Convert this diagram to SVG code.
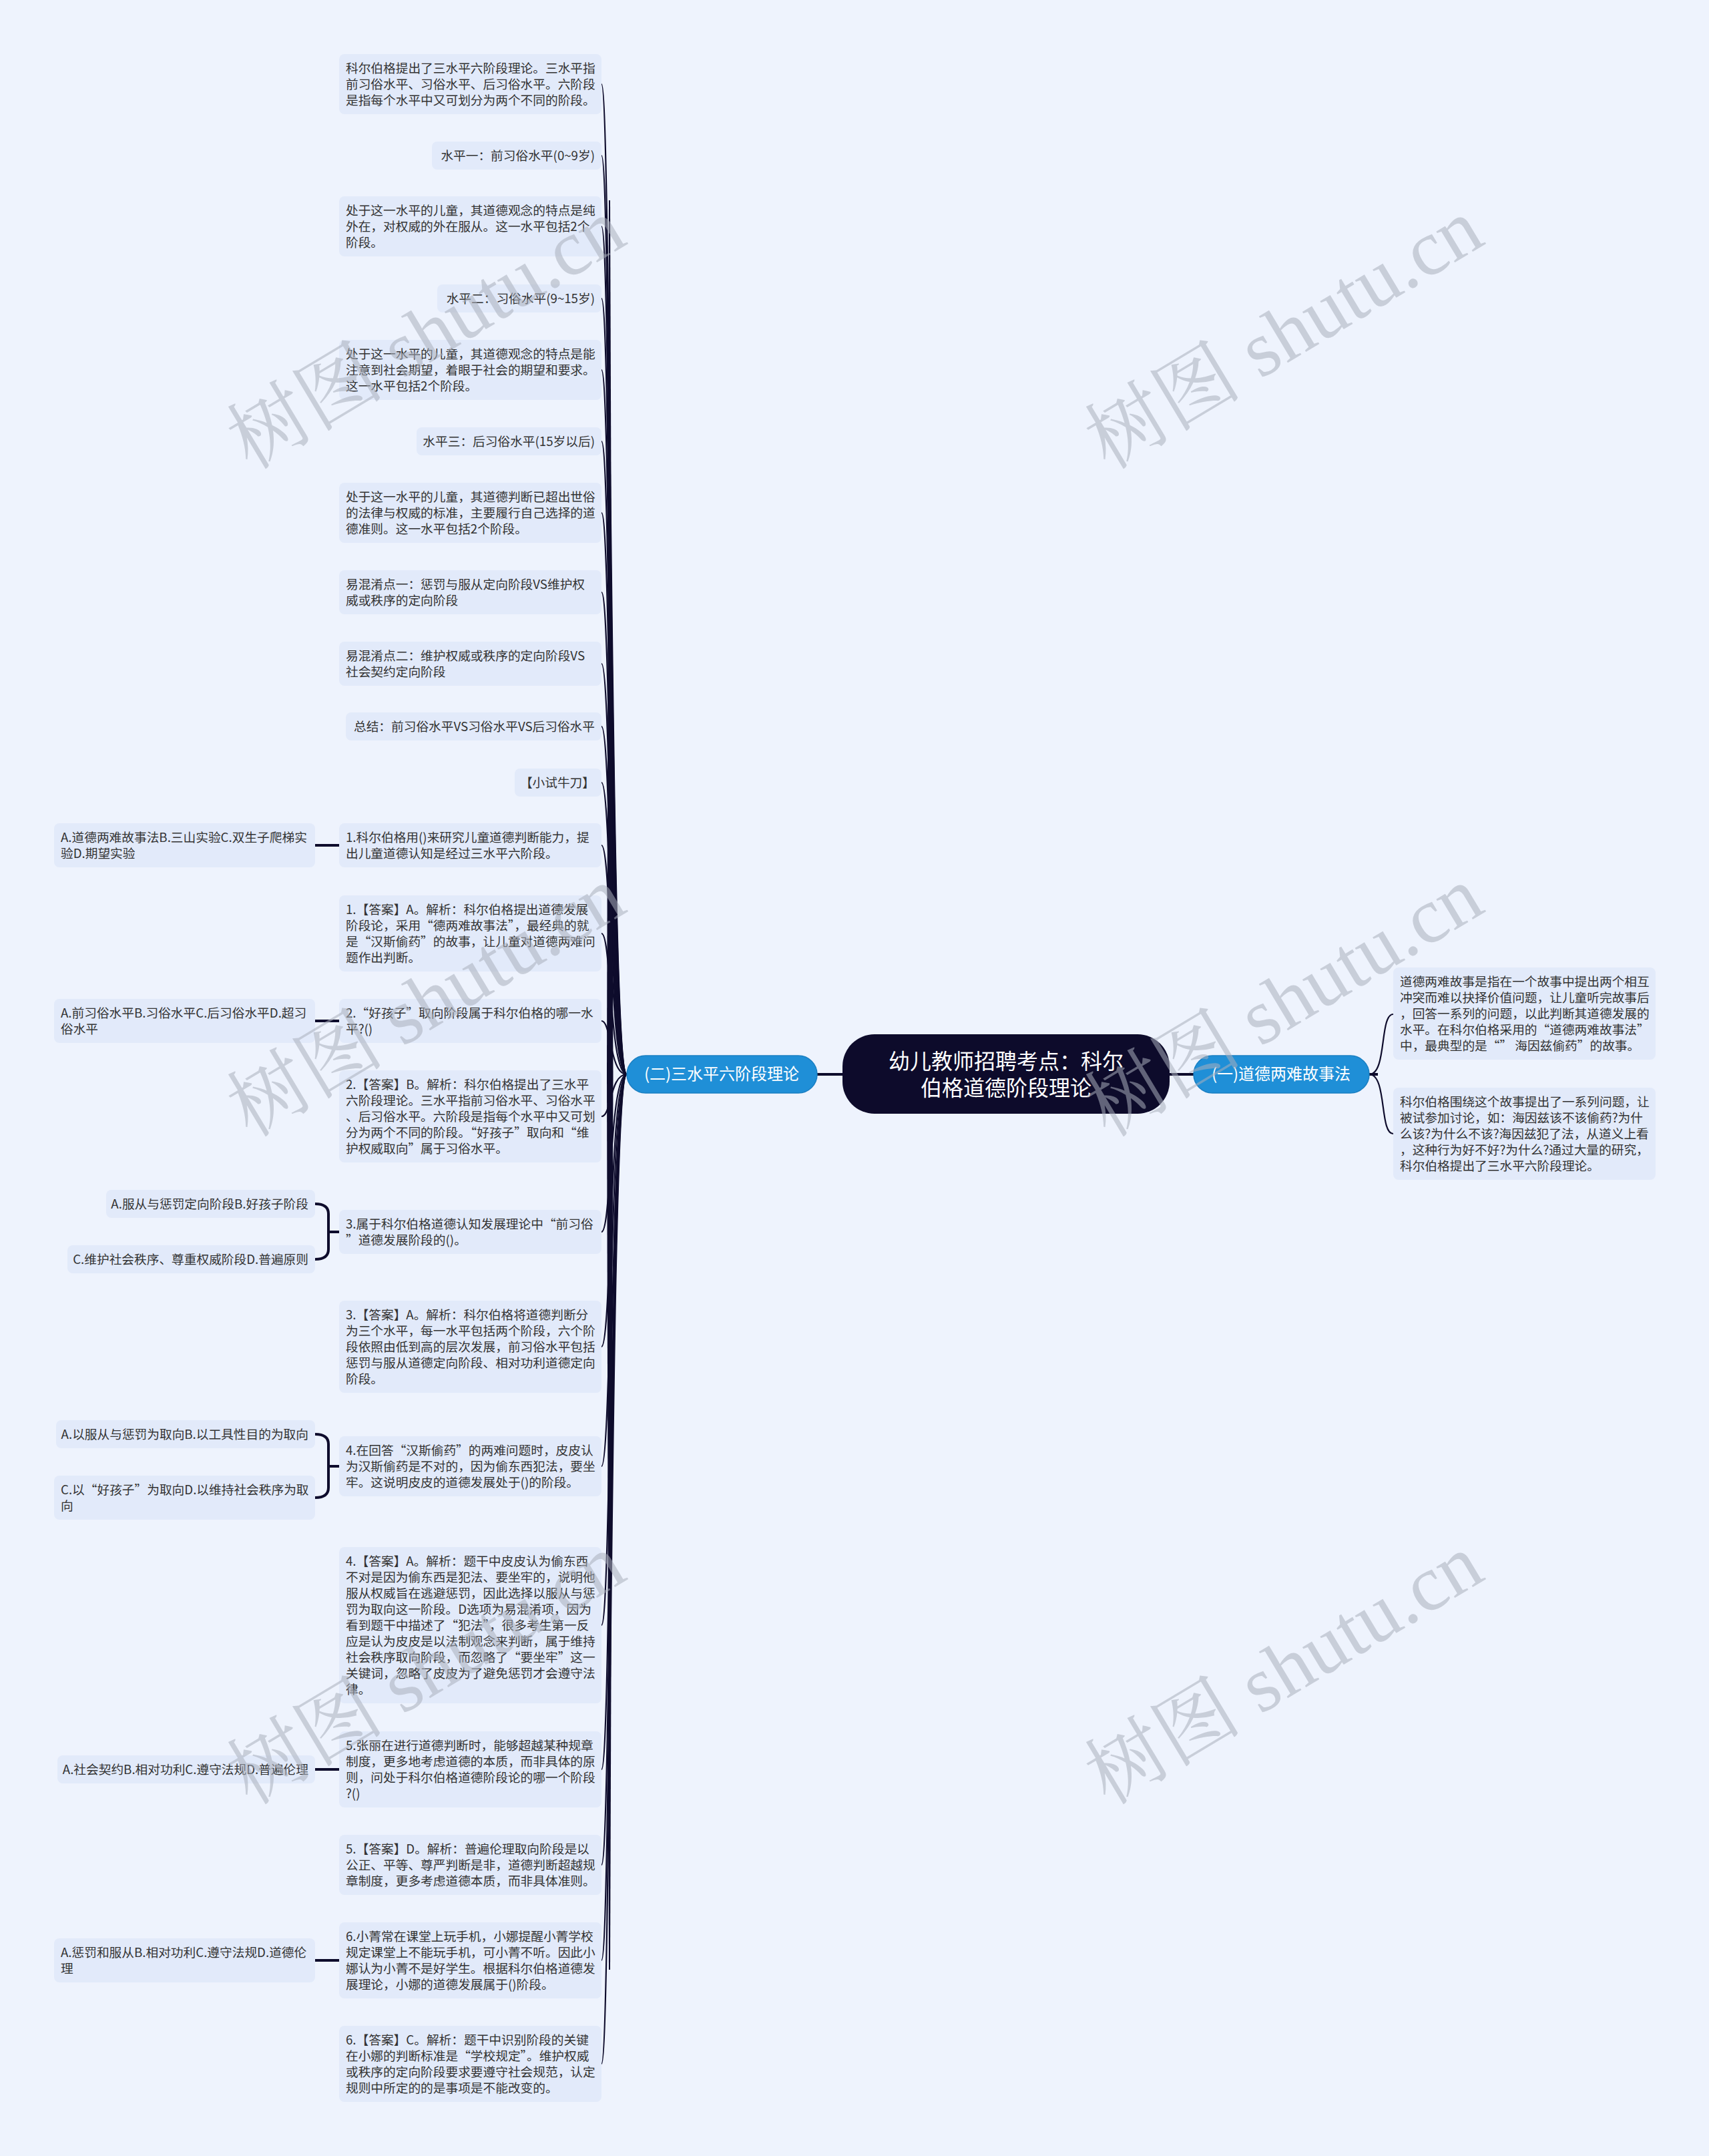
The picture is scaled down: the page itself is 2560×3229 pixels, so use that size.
<svg xmlns="http://www.w3.org/2000/svg" width="2560" height="3229" viewBox="0 0 2560 3229">
<style>
.leaf{fill:#e2eafa;}
.t{font-family:"Noto Sans CJK SC","Noto Sans",sans-serif;font-size:18.7px;fill:#333333;}
.te{font-family:"Noto Sans CJK SC","Noto Sans",sans-serif;font-size:18.7px;fill:#333333;text-anchor:end;}
.c{fill:none;stroke:#0e0c2c;stroke-width:2.2;}
.cb{fill:none;stroke:#0e0c2c;stroke-width:4;}
.br{fill:#1f8fd7;stroke:#1a7fc2;stroke-width:1.5;}
.bt{font-family:"Noto Sans CJK SC","Noto Sans",sans-serif;font-size:24px;fill:#ffffff;text-anchor:middle;}
.wm{font-family:"Liberation Serif","Noto Serif CJK SC","Noto Sans CJK SC",serif;font-size:118px;fill:#a9aebb;fill-opacity:0.55;}
</style>
<rect x="0" y="0" width="2560" height="3229" fill="#eef3fd"/>

<g id="connectors">
<path class="c" d="M901 126 C916 126,913 1609,939 1609"/>
<path class="c" d="M901 233 C916 233,913 1609,939 1609"/>
<path class="c" d="M901 339 C916 339,913 1609,939 1609"/>
<path class="c" d="M901 447 C916 447,913 1609,939 1609"/>
<path class="c" d="M901 554 C916 554,913 1609,939 1609"/>
<path class="c" d="M901 661 C916 661,913 1609,939 1609"/>
<path class="c" d="M901 768 C916 768,913 1609,939 1609"/>
<path class="c" d="M901 887 C916 887,913 1609,939 1609"/>
<path class="c" d="M901 994 C916 994,913 1609,939 1609"/>
<path class="c" d="M901 1088 C916 1088,913 1609,939 1609"/>
<path class="c" d="M901 1172 C916 1172,913 1609,939 1609"/>
<path class="c" d="M901 1266 C916 1266,913 1609,939 1609"/>
<path class="c" d="M901 1398 C916 1398,913 1609,939 1609"/>
<path class="c" d="M901 1529 C916 1529,913 1609,939 1609"/>
<path class="c" d="M901 1672 C916 1672,913 1609,939 1609"/>
<path class="c" d="M901 1845 C916 1845,913 1609,939 1609"/>
<path class="c" d="M901 2017 C916 2017,913 1609,939 1609"/>
<path class="c" d="M901 2196 C916 2196,913 1609,939 1609"/>
<path class="c" d="M901 2434 C916 2434,913 1609,939 1609"/>
<path class="c" d="M901 2650 C916 2650,913 1609,939 1609"/>
<path class="c" d="M901 2793 C916 2793,913 1609,939 1609"/>
<path class="c" d="M901 2936 C916 2936,913 1609,939 1609"/>
<path class="c" d="M901 3091 C916 3091,913 1609,939 1609"/>
<path d="M912 300 L914 300 L918.5 1609 L914 2950 L912 2950 L909 1609 Z" fill="#0e0c2c"/>
<path class="cb" d="M1224 1609 L1262 1609"/>
<path class="cb" d="M1752 1609 L1788 1609"/>
<path class="c" d="M2051 1609 C2078 1609,2066 1519,2087 1519"/>
<path class="c" d="M2051 1609 C2078 1609,2066 1698,2087 1698"/>
<path class="cb" d="M2051 1609 L2064 1609"/>
<path class="cb" d="M472 1266 L509 1266"/>
<path class="cb" d="M472 1529 L509 1529"/>
<path class="cb" d="M472 1803 Q492 1803 492 1818 L492 1871 Q492 1886 472 1886 M492 1845 L509 1845"/>
<path class="cb" d="M472 2148 Q492 2148 492 2163 L492 2228 Q492 2243 472 2243 M492 2196 L509 2196"/>
<path class="cb" d="M472 2650 L509 2650"/>
<path class="cb" d="M472 2936 L509 2936"/>
</g>

<g id="root">
<rect x="1262" y="1549" width="490" height="119" rx="48" fill="#0d0b2b"/>
<text x="1507" y="1601" font-family="Noto Sans CJK SC, sans-serif" font-size="32" fill="#ffffff" text-anchor="middle">幼儿教师招聘考点：科尔</text>
<text x="1507" y="1641" font-family="Noto Sans CJK SC, sans-serif" font-size="32" fill="#ffffff" text-anchor="middle">伯格道德阶段理论</text>
</g>

<g id="branch-left">
<rect class="br" x="939" y="1581" width="285" height="56" rx="28"/>
<text class="bt" x="1081" y="1617">(二)三水平六阶段理论</text>
</g>
<g id="branch-right">
<rect class="br" x="1788" y="1581" width="263" height="56" rx="28"/>
<text class="bt" x="1919" y="1617">(一)道德两难故事法</text>
</g>

<g id="r1">
<rect class="leaf" x="2087" y="1449" width="393" height="138" rx="8"/>
<text class="t" y="1477"><tspan x="2097">道德两难故事是指在一个故事中提出两个相互</tspan><tspan x="2097" dy="24">冲突而难以抉择价值问题，让儿童听完故事后</tspan><tspan x="2097" dy="24">，回答一系列的问题，以此判断其道德发展的</tspan><tspan x="2097" dy="24">水平。在科尔伯格采用的“道德两难故事法”</tspan><tspan x="2097" dy="24">中，最典型的是“” 海因兹偷药”的故事。</tspan></text>
</g>
<g id="r2">
<rect class="leaf" x="2087" y="1629" width="393" height="138" rx="8"/>
<text class="t" y="1657"><tspan x="2097">科尔伯格围绕这个故事提出了一系列问题，让</tspan><tspan x="2097" dy="24">被试参加讨论，如：海因兹该不该偷药?为什</tspan><tspan x="2097" dy="24">么该?为什么不该?海因兹犯了法，从道义上看</tspan><tspan x="2097" dy="24">，这种行为好不好?为什么?通过大量的研究，</tspan><tspan x="2097" dy="24">科尔伯格提出了三水平六阶段理论。</tspan></text>
</g>

<g id="n1">
<rect class="leaf" x="508" y="81" width="393" height="90" rx="8"/>
<text class="t" y="109"><tspan x="518">科尔伯格提出了三水平六阶段理论。三水平指</tspan><tspan x="518" dy="24">前习俗水平、习俗水平、后习俗水平。六阶段</tspan><tspan x="518" dy="24">是指每个水平中又可划分为两个不同的阶段。</tspan></text>
</g>
<g id="n2">
<rect class="leaf" x="647" y="212" width="254" height="42" rx="8"/>
<text class="te" x="891" y="240">水平一：前习俗水平(0~9岁)</text>
</g>
<g id="n3">
<rect class="leaf" x="508" y="294" width="393" height="90" rx="8"/>
<text class="t" y="322"><tspan x="518">处于这一水平的儿童，其道德观念的特点是纯</tspan><tspan x="518" dy="24">外在，对权威的外在服从。这一水平包括2个</tspan><tspan x="518" dy="24">阶段。</tspan></text>
</g>
<g id="n4">
<rect class="leaf" x="655" y="426" width="246" height="42" rx="8"/>
<text class="te" x="891" y="454">水平二：习俗水平(9~15岁)</text>
</g>
<g id="n5">
<rect class="leaf" x="508" y="509" width="393" height="90" rx="8"/>
<text class="t" y="537"><tspan x="518">处于这一水平的儿童，其道德观念的特点是能</tspan><tspan x="518" dy="24">注意到社会期望，着眼于社会的期望和要求。</tspan><tspan x="518" dy="24">这一水平包括2个阶段。</tspan></text>
</g>
<g id="n6">
<rect class="leaf" x="624" y="640" width="277" height="42" rx="8"/>
<text class="te" x="891" y="668">水平三：后习俗水平(15岁以后)</text>
</g>
<g id="n7">
<rect class="leaf" x="508" y="723" width="393" height="90" rx="8"/>
<text class="t" y="751"><tspan x="518">处于这一水平的儿童，其道德判断已超出世俗</tspan><tspan x="518" dy="24">的法律与权威的标准，主要履行自己选择的道</tspan><tspan x="518" dy="24">德准则。这一水平包括2个阶段。</tspan></text>
</g>
<g id="n8">
<rect class="leaf" x="508" y="854" width="393" height="66" rx="8"/>
<text class="t" y="882"><tspan x="518">易混淆点一：惩罚与服从定向阶段VS维护权</tspan><tspan x="518" dy="24">威或秩序的定向阶段</tspan></text>
</g>
<g id="n9">
<rect class="leaf" x="508" y="961" width="393" height="66" rx="8"/>
<text class="t" y="989"><tspan x="518">易混淆点二：维护权威或秩序的定向阶段VS</tspan><tspan x="518" dy="24">社会契约定向阶段</tspan></text>
</g>
<g id="n10">
<rect class="leaf" x="518" y="1067" width="383" height="42" rx="8"/>
<text class="te" x="891" y="1095">总结：前习俗水平VS习俗水平VS后习俗水平</text>
</g>
<g id="n11">
<rect class="leaf" x="771" y="1151" width="130" height="42" rx="8"/>
<text class="te" x="891" y="1179">【小试牛刀】</text>
</g>
<g id="n12">
<rect class="leaf" x="508" y="1233" width="393" height="66" rx="8"/>
<text class="t" y="1261"><tspan x="518">1.科尔伯格用()来研究儿童道德判断能力，提</tspan><tspan x="518" dy="24">出儿童道德认知是经过三水平六阶段。</tspan></text>
</g>
<g id="o1">
<rect class="leaf" x="81" y="1233" width="391" height="66" rx="8"/>
<text class="t" y="1261"><tspan x="91">A.道德两难故事法B.三山实验C.双生子爬梯实</tspan><tspan x="91" dy="24">验D.期望实验</tspan></text>
</g>
<g id="n13">
<rect class="leaf" x="508" y="1341" width="393" height="114" rx="8"/>
<text class="t" y="1369"><tspan x="518">1.【答案】A。解析：科尔伯格提出道德发展</tspan><tspan x="518" dy="24">阶段论，采用“德两难故事法”，最经典的就</tspan><tspan x="518" dy="24">是“汉斯偷药”的故事，让儿童对道德两难问</tspan><tspan x="518" dy="24">题作出判断。</tspan></text>
</g>
<g id="n14">
<rect class="leaf" x="508" y="1496" width="393" height="66" rx="8"/>
<text class="t" y="1524"><tspan x="518">2.“好孩子”取向阶段属于科尔伯格的哪一水</tspan><tspan x="518" dy="24">平?()</tspan></text>
</g>
<g id="o2">
<rect class="leaf" x="81" y="1496" width="391" height="66" rx="8"/>
<text class="t" y="1524"><tspan x="91">A.前习俗水平B.习俗水平C.后习俗水平D.超习</tspan><tspan x="91" dy="24">俗水平</tspan></text>
</g>
<g id="n15">
<rect class="leaf" x="508" y="1603" width="393" height="138" rx="8"/>
<text class="t" y="1631"><tspan x="518">2.【答案】B。解析：科尔伯格提出了三水平</tspan><tspan x="518" dy="24">六阶段理论。三水平指前习俗水平、习俗水平</tspan><tspan x="518" dy="24">、后习俗水平。六阶段是指每个水平中又可划</tspan><tspan x="518" dy="24">分为两个不同的阶段。“好孩子”取向和“维</tspan><tspan x="518" dy="24">护权威取向”属于习俗水平。</tspan></text>
</g>
<g id="n16">
<rect class="leaf" x="508" y="1812" width="393" height="66" rx="8"/>
<text class="t" y="1840"><tspan x="518">3.属于科尔伯格道德认知发展理论中“前习俗</tspan><tspan x="518" dy="24">”道德发展阶段的()。</tspan></text>
</g>
<g id="o3a">
<rect class="leaf" x="159" y="1782" width="313" height="42" rx="8"/>
<text class="te" x="462" y="1810">A.服从与惩罚定向阶段B.好孩子阶段</text>
</g>
<g id="o3c">
<rect class="leaf" x="101" y="1865" width="371" height="42" rx="8"/>
<text class="te" x="462" y="1893">C.维护社会秩序、尊重权威阶段D.普遍原则</text>
</g>
<g id="n17">
<rect class="leaf" x="508" y="1948" width="393" height="138" rx="8"/>
<text class="t" y="1976"><tspan x="518">3.【答案】A。解析：科尔伯格将道德判断分</tspan><tspan x="518" dy="24">为三个水平，每一水平包括两个阶段，六个阶</tspan><tspan x="518" dy="24">段依照由低到高的层次发展，前习俗水平包括</tspan><tspan x="518" dy="24">惩罚与服从道德定向阶段、相对功利道德定向</tspan><tspan x="518" dy="24">阶段。</tspan></text>
</g>
<g id="o4a">
<rect class="leaf" x="84" y="2127" width="388" height="42" rx="8"/>
<text class="te" x="462" y="2155">A.以服从与惩罚为取向B.以工具性目的为取向</text>
</g>
<g id="o4c">
<rect class="leaf" x="81" y="2210" width="391" height="66" rx="8"/>
<text class="t" y="2238"><tspan x="91">C.以“好孩子”为取向D.以维持社会秩序为取</tspan><tspan x="91" dy="24">向</tspan></text>
</g>
<g id="n18">
<rect class="leaf" x="508" y="2151" width="393" height="90" rx="8"/>
<text class="t" y="2179"><tspan x="518">4.在回答“汉斯偷药”的两难问题时，皮皮认</tspan><tspan x="518" dy="24">为汉斯偷药是不对的，因为偷东西犯法，要坐</tspan><tspan x="518" dy="24">牢。这说明皮皮的道德发展处于()的阶段。</tspan></text>
</g>
<g id="n19">
<rect class="leaf" x="508" y="2317" width="393" height="234" rx="8"/>
<text class="t" y="2345"><tspan x="518">4.【答案】A。解析：题干中皮皮认为偷东西</tspan><tspan x="518" dy="24">不对是因为偷东西是犯法、要坐牢的，说明他</tspan><tspan x="518" dy="24">服从权威旨在逃避惩罚，因此选择以服从与惩</tspan><tspan x="518" dy="24">罚为取向这一阶段。D选项为易混淆项，因为</tspan><tspan x="518" dy="24">看到题干中描述了“犯法”，很多考生第一反</tspan><tspan x="518" dy="24">应是认为皮皮是以法制观念来判断，属于维持</tspan><tspan x="518" dy="24">社会秩序取向阶段，而忽略了“要坐牢”这一</tspan><tspan x="518" dy="24">关键词，忽略了皮皮为了避免惩罚才会遵守法</tspan><tspan x="518" dy="24">律。</tspan></text>
</g>
<g id="n20">
<rect class="leaf" x="508" y="2593" width="393" height="114" rx="8"/>
<text class="t" y="2621"><tspan x="518">5.张丽在进行道德判断时，能够超越某种规章</tspan><tspan x="518" dy="24">制度，更多地考虑道德的本质，而非具体的原</tspan><tspan x="518" dy="24">则，问处于科尔伯格道德阶段论的哪一个阶段</tspan><tspan x="518" dy="24">?()</tspan></text>
</g>
<g id="o5">
<rect class="leaf" x="86" y="2629" width="386" height="42" rx="8"/>
<text class="te" x="462" y="2657">A.社会契约B.相对功利C.遵守法规D.普遍伦理</text>
</g>
<g id="n21">
<rect class="leaf" x="508" y="2748" width="393" height="90" rx="8"/>
<text class="t" y="2776"><tspan x="518">5.【答案】D。解析：普遍伦理取向阶段是以</tspan><tspan x="518" dy="24">公正、平等、尊严判断是非，道德判断超越规</tspan><tspan x="518" dy="24">章制度，更多考虑道德本质，而非具体准则。</tspan></text>
</g>
<g id="n22">
<rect class="leaf" x="508" y="2879" width="393" height="114" rx="8"/>
<text class="t" y="2907"><tspan x="518">6.小菁常在课堂上玩手机，小娜提醒小菁学校</tspan><tspan x="518" dy="24">规定课堂上不能玩手机，可小菁不听。因此小</tspan><tspan x="518" dy="24">娜认为小菁不是好学生。根据科尔伯格道德发</tspan><tspan x="518" dy="24">展理论，小娜的道德发展属于()阶段。</tspan></text>
</g>
<g id="o6">
<rect class="leaf" x="81" y="2903" width="391" height="66" rx="8"/>
<text class="t" y="2931"><tspan x="91">A.惩罚和服从B.相对功利C.遵守法规D.道德伦</tspan><tspan x="91" dy="24">理</tspan></text>
</g>
<g id="n23">
<rect class="leaf" x="508" y="3034" width="393" height="114" rx="8"/>
<text class="t" y="3062"><tspan x="518">6.【答案】C。解析：题干中识别阶段的关键</tspan><tspan x="518" dy="24">在小娜的判断标准是“学校规定”。维护权威</tspan><tspan x="518" dy="24">或秩序的定向阶段要求要遵守社会规范，认定</tspan><tspan x="518" dy="24">规则中所定的的是事项是不能改变的。</tspan></text>
</g>

<g id="watermarks">
<text class="wm" transform="translate(375 705) rotate(-31)">树图 shutu.cn</text>
<text class="wm" transform="translate(1660 705) rotate(-31)">树图 shutu.cn</text>
<text class="wm" transform="translate(375 1705) rotate(-31)">树图 shutu.cn</text>
<text class="wm" transform="translate(1660 1705) rotate(-31)">树图 shutu.cn</text>
<text class="wm" transform="translate(375 2705) rotate(-31)">树图 shutu.cn</text>
<text class="wm" transform="translate(1660 2705) rotate(-31)">树图 shutu.cn</text>
</g>
</svg>
